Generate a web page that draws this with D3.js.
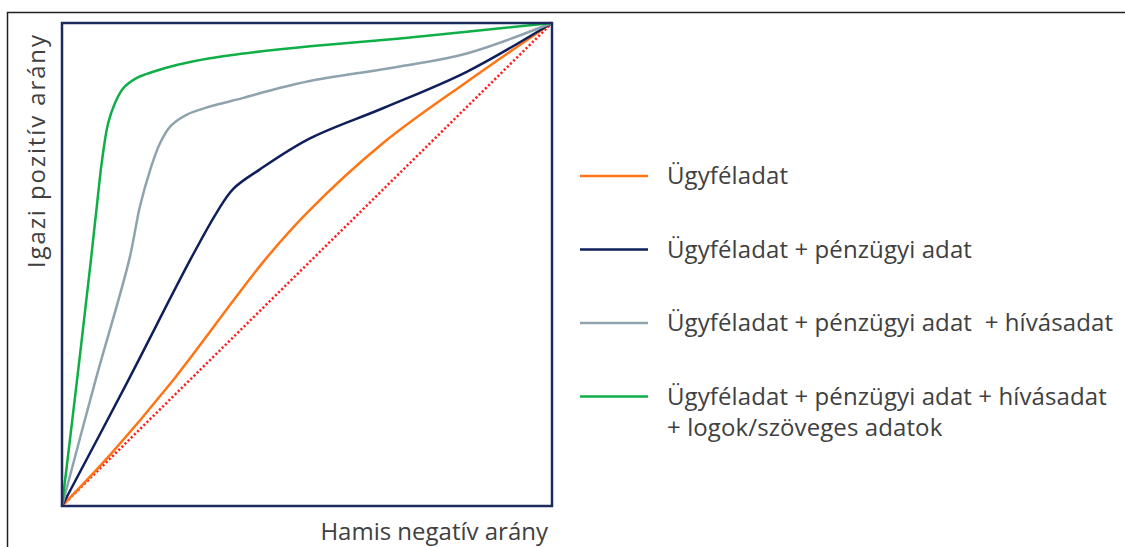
<!DOCTYPE html>
<html>
<head>
<meta charset="utf-8">
<script src="https://cdn.jsdelivr.net/npm/d3@7"></script>
<style>
  body { margin: 0; background: #fff; }
  text { font-family: "Open Sans", Lato, sans-serif; fill: #404040; white-space: pre; }
</style>
</head>
<body>
<svg></svg>
<script>
// ROC curves (false positive rate, true positive rate)
const seriesNames = [
    "Ügyféladat",
    "Ügyféladat + pénzügyi adat",
    "Ügyféladat + pénzügyi adat  + hívásadat",
    "Ügyféladat + pénzügyi adat + hívásadat|+ logok/szöveges adatok"
];
const seriesColors = ["#ff7415", "#0f1f5c", "#8ea3ae", "#0fae47"];

const orangeX = [0, 0.10, 0.22, 0.412, 0.50, 0.656, 0.826, 1];
const orangeY = [0, 0.108, 0.252, 0.507, 0.607, 0.752, 0.878, 1];

const navyX = [0, 0.132, 0.263, 0.316, 0.350, 0.404, 0.506, 0.656, 0.826, 1];
const navyY = [0, 0.254, 0.512, 0.608, 0.657, 0.697, 0.761, 0.824, 0.899, 1];

const grayX = [0, 0.067, 0.137, 0.159, 0.180, 0.200, 0.222, 0.254, 0.302, 0.370, 0.438, 0.506, 0.690, 0.826, 1];
const grayY = [0, 0.255, 0.509, 0.620, 0.696, 0.751, 0.787, 0.810, 0.827, 0.845, 0.864, 0.880, 0.910, 0.937, 1];

const greenX = [0, 0.030, 0.059, 0.071, 0.081, 0.094, 0.108, 0.125, 0.152, 0.186, 0.234, 0.302, 0.404, 0.506, 0.690, 1];
const greenY = [0, 0.255, 0.509, 0.620, 0.710, 0.792, 0.834, 0.865, 0.886, 0.899, 0.913, 0.927, 0.941, 0.952, 0.968, 1];

const diagX = [0, 1];
const diagY = [0, 1];

const svgWidth = 1125;
const svgHeight = 547;

const svg = d3.select("svg")
    .attr("width", svgWidth)
    .attr("height", svgHeight);

// outer frame (top and left edge only are visible)
svg.append("path")
    .attr("d", "M7.5,547 V12.5 H1125")
    .attr("fill", "none")
    .attr("stroke", "#222")
    .attr("stroke-width", 1.5);

const plot = {left: 62, right: 552, top: 23, bottom: 506};

const x = d3.scaleLinear().domain([0, 1]).range([plot.left, plot.right]);
const y = d3.scaleLinear().domain([0, 1]).range([plot.bottom, plot.top]);

const line = d3.line()
    .x(d => x(d[0]))
    .y(d => y(d[1]))
    .curve(d3.curveCatmullRom.alpha(0.5));

const zip = (a, b) => a.map((v, i) => [v, b[i]]);

// diagonal reference line
svg.append("path")
    .datum(zip(diagX, diagY))
    .attr("d", d3.line().x(d => x(d[0])).y(d => y(d[1])))
    .attr("fill", "none")
    .attr("stroke", "#ff1f1f")
    .attr("stroke-width", 2.5)
    .attr("stroke-dasharray", "2.2,2.2");

const curves = [zip(orangeX, orangeY), zip(navyX, navyY), zip(grayX, grayY), zip(greenX, greenY)];

svg.selectAll(".roc")
    .data(curves)
    .enter()
    .append("path")
    .attr("class", "roc")
    .attr("d", line)
    .attr("fill", "none")
    .attr("stroke", (d, i) => seriesColors[i])
    .attr("stroke-width", 2.5);

// plot border
svg.append("rect")
    .attr("x", plot.left)
    .attr("y", plot.top)
    .attr("width", plot.right - plot.left)
    .attr("height", plot.bottom - plot.top)
    .attr("fill", "none")
    .attr("stroke", "#1c2a5e")
    .attr("stroke-width", 2.5);

// axis titles
svg.append("text")
    .attr("x", 548)
    .attr("y", 540)
    .attr("text-anchor", "end")
    .style("font-size", "24px")
    .text("Hamis negatív arány");

svg.append("text")
    .attr("transform", "translate(45,268) rotate(-90)")
    .attr("text-anchor", "start")
    .attr("textLength", 233)
    .attr("lengthAdjust", "spacing")
    .style("font-size", "24px")
    .text("Igazi pozitív arány");

// legend
const legend = svg.selectAll(".legend")
    .data(seriesNames)
    .enter()
    .append("g")
    .attr("class", "legend")
    .attr("transform", (d, i) => "translate(580," + (176 + i * 73.5) + ")");

legend.append("line")
    .attr("x1", 0)
    .attr("x2", 68)
    .attr("stroke", (d, i) => seriesColors[i])
    .attr("stroke-width", 2.5);

legend.append("text")
    .attr("x", 87)
    .attr("y", 8)
    .style("font-size", "24px")
    .style("letter-spacing", "0.1px")
    .selectAll("tspan")
    .data(d => d.split("|"))
    .enter()
    .append("tspan")
    .attr("x", 87)
    .attr("dy", (d, i) => i ? 31 : 0)
    .text(d => d);
</script>
</body>
</html>
